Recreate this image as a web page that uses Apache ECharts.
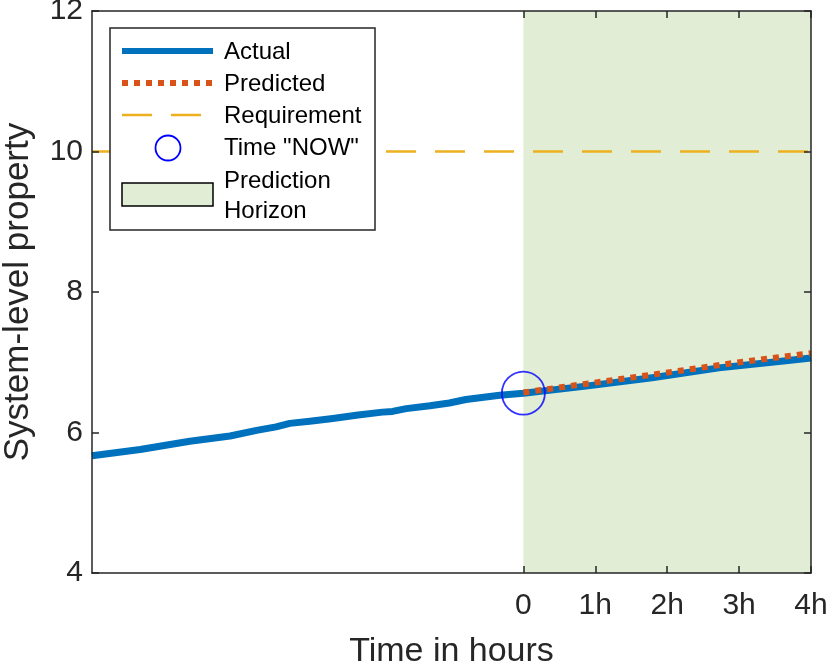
<!DOCTYPE html>
<html>
<head>
<meta charset="utf-8">
<script src="https://cdn.jsdelivr.net/npm/echarts@6/dist/echarts.min.js"></script>
<style>
html,body{margin:0;padding:0;background:#fff;}
#chart{width:830px;height:666px;}
</style>
</head>
<body>
<div id="chart"></div>
<script>
// ---- data ----
var actualT = [-6, -5.33, -4.64, -4.08, -3.71, -3.44, -3.25, -2.97, -2.65, -2.3, -1.96, -1.82, -1.63, -1.3, -1.03, -0.8, -0.33, 0, 0.87, 1.79, 2.72, 3.65, 4];
var actualV = [5.67, 5.757, 5.876, 5.95, 6.03, 6.08, 6.13, 6.16, 6.20, 6.25, 6.29, 6.30, 6.34, 6.38, 6.42, 6.47, 6.53, 6.56, 6.66, 6.78, 6.92, 7.02, 7.06];
var predT = [0, 0.92, 1.91, 2.93, 4];
var predV = [6.57, 6.70, 6.84, 6.99, 7.13];
var requirementV = 10;
var nowT = 0, nowV = 6.56;
var horizonStart = 0, horizonEnd = 4;
var xTickValues = [0, 1, 2, 3, 4];
var xTickLabels = ['0', '1h', '2h', '3h', '4h'];
var xMin = -6, xMax = 4, yMin = 4, yMax = 12, yStep = 2;
var legendNames = ['Actual', 'Predicted', 'Requirement', 'Time "NOW"', 'Prediction', 'Horizon'];

var C_ACT = '#0072BD', C_PRED = '#D95319', C_REQ = '#EDB120', C_NOW = '#0000FF', C_SHADE = '#E2EDD6', C_AX = '#262626';
var FONT = '"Liberation Sans", Arial, Helvetica, sans-serif';

function pairs(t, v) { return t.map(function (x, i) { return [x, v[i]]; }); }

var chart = echarts.init(document.getElementById('chart'), null, {renderer: 'canvas'});
var axisCommon = {
  axisLine: {show: true, onZero: false, lineStyle: {color: C_AX, width: 1.5}},
  splitLine: {show: false},
  z: 10
};
var option = {
  animation: false,
  backgroundColor: '#fff',
  grid: {left: 92, right: 19, top: 11, bottom: 93, containLabel: false, outerBoundsMode: 'none'},
  xAxis: [
    Object.assign({}, axisCommon, {
      type: 'value', min: xMin, max: xMax, position: 'bottom',
      name: 'Time in hours', nameLocation: 'middle', nameGap: 62,
      nameTextStyle: {fontSize: 34, color: C_AX, fontFamily: FONT},
      axisTick: {show: true, inside: true, length: 7, customValues: xTickValues, lineStyle: {color: C_AX, width: 1.5}},
      axisLabel: {show: true, margin: 18, fontSize: 30, color: C_AX, fontFamily: FONT, customValues: xTickValues,
        formatter: function (v) { var i = xTickValues.indexOf(v); return i >= 0 ? xTickLabels[i] : ''; }}
    }),
    Object.assign({}, axisCommon, {
      type: 'value', min: xMin, max: xMax, position: 'top',
      axisTick: {show: true, inside: true, length: 7, customValues: xTickValues, lineStyle: {color: C_AX, width: 1.5}},
      axisLabel: {show: false}
    })
  ],
  yAxis: [
    Object.assign({}, axisCommon, {
      type: 'value', min: yMin, max: yMax, interval: yStep, position: 'left',
      name: 'System-level property', nameLocation: 'middle', nameGap: 56, nameRotate: 90,
      nameTextStyle: {fontSize: 35, color: C_AX, fontFamily: FONT},
      axisTick: {show: true, inside: true, length: 7, lineStyle: {color: C_AX, width: 1.5}},
      axisLabel: {show: true, margin: 9, fontSize: 30, color: C_AX, fontFamily: FONT}
    }),
    Object.assign({}, axisCommon, {
      type: 'value', min: yMin, max: yMax, interval: yStep, position: 'right',
      axisTick: {show: true, inside: true, length: 7, lineStyle: {color: C_AX, width: 1.5}},
      axisLabel: {show: false}
    })
  ],
  series: [
    {
      name: 'Prediction Horizon', type: 'line', data: [], z: 1,
      markArea: {silent: true, itemStyle: {color: C_SHADE}, data: [[{xAxis: horizonStart}, {xAxis: horizonEnd}]]}
    },
    {
      name: 'Requirement', type: 'line', z: 3, showSymbol: false, symbol: 'none',
      data: [[xMin, requirementV], [xMax, requirementV]],
      lineStyle: {color: C_REQ, width: 2.5, type: [30, 19], cap: 'butt'}
    },
    {
      name: 'Actual', type: 'line', z: 4, showSymbol: false, symbol: 'none', smooth: false,
      data: pairs(actualT, actualV),
      lineStyle: {color: C_ACT, width: 7, cap: 'butt', join: 'round'}
    },
    {
      name: 'Predicted', type: 'line', z: 5, showSymbol: false, symbol: 'none',
      data: pairs(predT, predV),
      lineStyle: {color: C_PRED, width: 6, type: [6, 6], cap: 'butt'}
    },
    {
      name: 'Time "NOW"', type: 'scatter', z: 6, symbol: 'circle', symbolSize: 43,
      data: [[nowT, nowV]],
      itemStyle: {color: 'rgba(0,0,0,0)', borderColor: C_NOW, borderWidth: 1.8}
    }
  ],
  graphic: [
    {type: 'rect', shape: {x: 110, y: 28, width: 265, height: 202}, style: {fill: '#fff', stroke: C_AX, lineWidth: 1.5}, z: 20},
    {type: 'line', shape: {x1: 122, y1: 51, x2: 213, y2: 51}, style: {stroke: C_ACT, lineWidth: 6}, z: 21},
    {type: 'line', shape: {x1: 122, y1: 83, x2: 213, y2: 83}, style: {stroke: C_PRED, lineWidth: 6, lineDash: [6, 6]}, z: 21},
    {type: 'line', shape: {x1: 122, y1: 115, x2: 213, y2: 115}, style: {stroke: C_REQ, lineWidth: 2.5, lineDash: [30, 19]}, z: 21},
    {type: 'circle', shape: {cx: 168, cy: 148, r: 12.5}, style: {fill: 'none', stroke: C_NOW, lineWidth: 1.8}, z: 21},
    {type: 'rect', shape: {x: 122, y: 183, width: 91, height: 23}, style: {fill: C_SHADE, stroke: '#000', lineWidth: 1.5}, z: 21},
    {type: 'text', x: 224, y: 52, style: {text: legendNames[0], font: '24px ' + FONT, fill: '#000', verticalAlign: 'middle'}, z: 21},
    {type: 'text', x: 224, y: 84, style: {text: legendNames[1], font: '24px ' + FONT, fill: '#000', verticalAlign: 'middle'}, z: 21},
    {type: 'text', x: 224, y: 116, style: {text: legendNames[2], font: '24px ' + FONT, fill: '#000', verticalAlign: 'middle'}, z: 21},
    {type: 'text', x: 224, y: 148, style: {text: legendNames[3], font: '24px ' + FONT, fill: '#000', verticalAlign: 'middle'}, z: 21},
    {type: 'text', x: 224, y: 181, style: {text: legendNames[4], font: '24px ' + FONT, fill: '#000', verticalAlign: 'middle'}, z: 21},
    {type: 'text', x: 224, y: 211, style: {text: legendNames[5], font: '24px ' + FONT, fill: '#000', verticalAlign: 'middle'}, z: 21}
  ]
};
chart.setOption(option);
</script>
</body>
</html>
